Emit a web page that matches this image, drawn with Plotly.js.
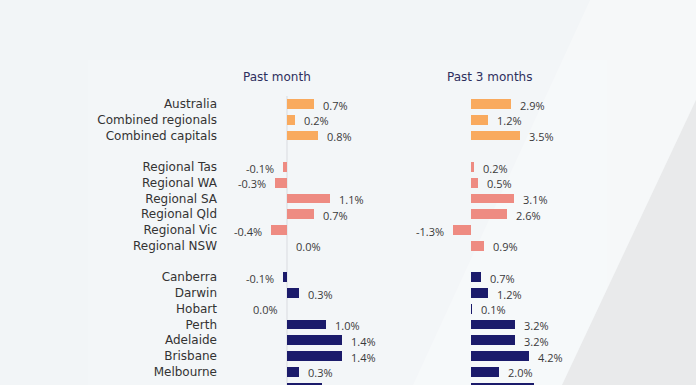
<!DOCTYPE html>
<html>
<head>
<meta charset="utf-8">
<script src="https://cdn.plot.ly/plotly-3.0.1.min.js"></script>
<style>html,body{margin:0;padding:0;background:#f2f5f7;}#chart{width:696px;height:385px;}</style>
</head>
<body>
<div id="chart"></div>
<script>
// ---- data ----
const nationalLabels = ['Australia', 'Combined regionals', 'Combined capitals'];
const nationalMonth = [0.7, 0.2, 0.8];
const national3m = [2.9, 1.2, 3.5];

const regionalLabels = ['Regional Tas', 'Regional WA', 'Regional SA', 'Regional Qld', 'Regional Vic', 'Regional NSW'];
const regionalMonth = [-0.1, -0.3, 1.1, 0.7, -0.4, 0.0];
const regional3m = [0.2, 0.5, 3.1, 2.6, -1.3, 0.9];

const capitalLabels = ['Canberra', 'Darwin', 'Hobart', 'Perth', 'Adelaide', 'Brisbane', 'Melbourne', 'Sydney'];
const capitalMonth = [-0.1, 0.3, -0.0, 1.0, 1.4, 1.4, 0.3, 0.9];
const capital3m = [0.7, 1.2, 0.1, 3.2, 3.2, 4.2, 2.0, 4.5];

const panelTitles = ['Past month', 'Past 3 months'];

// ---- build ----
const W = 696, H = 385;
const FONT = 'DejaVu Sans, sans-serif';
const VFONT = 'Open Sans, sans-serif';
const groups = [
  {labels: nationalLabels, month: nationalMonth, q: national3m, color: '#F9AA5E'},
  {labels: regionalLabels, month: regionalMonth, q: regional3m, color: '#EE8B82'},
  {labels: capitalLabels, month: capitalMonth, q: capital3m, color: '#1B1B6B'}
];
let slot = 0;
const tickvals = [], ticktext = [];
const traces = [];
const annotations = [];
function fmt(v) { return (v < 0 ? '-' : '') + Math.abs(v).toFixed(1) + '%'; }
function isNeg(v) { return v < 0 || Object.is(v, -0); }
groups.forEach(g => {
  const ys = g.labels.map((_, i) => slot + i);
  ys.forEach((y, i) => { tickvals.push(y); ticktext.push(g.labels[i]); });
  [['month', 'x'], ['q', 'x2']].forEach(([key, ax]) => {
    traces.push({
      type: 'bar', orientation: 'h', x: g[key], y: ys, xaxis: ax, yaxis: 'y',
      width: 0.63, marker: {color: g.color, line: {width: 0}}, hoverinfo: 'skip', showlegend: false
    });
    g[key].forEach((v, i) => {
      const neg = isNeg(v);
      annotations.push({
        xref: ax, yref: 'y', x: v, y: ys[i], text: fmt(v), showarrow: false,
        xanchor: neg ? 'right' : 'left', xshift: neg ? -7 : 7, yshift: -1,
        font: {family: VFONT, size: 11, color: '#3a3a3a'}
      });
    });
  });
  slot += g.labels.length + 1;
});

// pixel helpers
const px = p => p / W;
const py = p => 1 - p / H;
const slotPx = 15.75, slot0 = 104;
const yTop = -slot0 / slotPx, yBot = (H - slot0) / slotPx;

// axes: zero of past-month at 287px, 39 px per %; 3 months zero at 471px, 13.9 px per %
const x1L = 222, x1R = 395, z1 = 287, s1 = 39;
const x2L = 440, x2R = 640, z2 = 471, s2 = 13.9;

panelTitles.forEach((t, i) => {
  annotations.push({xref: 'paper', yref: 'paper', x: px(i === 0 ? 277 : 489), y: py(77), text: t, showarrow: false,
    xanchor: 'center', yanchor: 'middle', font: {family: FONT, size: 12, color: '#2E2F5E'}});
});

function pathP(pts) { return 'M' + pts.map(p => px(p[0]) + ',' + py(p[1])).join(' L') + ' Z'; }

const layout = {
  width: W, height: H,
  margin: {l: 0, r: 0, t: 0, b: 0, pad: 0},
  paper_bgcolor: '#f2f5f7', plot_bgcolor: 'rgba(0,0,0,0)',
  showlegend: false, bargap: 0,
  font: {family: FONT, size: 12, color: '#333'},
  xaxis: {domain: [px(x1L), px(x1R)], range: [-(z1 - x1L) / s1, (x1R - z1) / s1], showgrid: false,
    zeroline: false, showticklabels: false, ticks: '', anchor: 'y', fixedrange: true},
  xaxis2: {domain: [px(x2L), px(x2R)], range: [-(z2 - x2L) / s2, (x2R - z2) / s2], showgrid: false,
    zeroline: false, showticklabels: false, ticks: '', anchor: 'y', fixedrange: true},
  yaxis: {domain: [0, 1], range: [yBot, yTop], tickmode: 'array', tickvals: tickvals, ticktext: ticktext,
    showgrid: false, zeroline: false, ticks: '', ticklabelstandoff: 4, anchor: 'x',
    tickfont: {family: FONT, size: 12, color: '#333'}, fixedrange: true},
  annotations: annotations,
  shapes: [
    {type: 'rect', xref: 'paper', yref: 'paper', x0: px(88), x1: px(607), y0: 0, y1: py(60),
      fillcolor: 'rgba(255,255,255,0.12)', line: {width: 0}, layer: 'below'},
    {type: 'path', xref: 'paper', yref: 'paper', path: pathP([[590, 0], [696, 0], [696, 100], [575, 385], [413, 385]]),
      fillcolor: 'rgba(255,255,255,0.3)', line: {width: 0}, layer: 'below'},
    {type: 'path', xref: 'paper', yref: 'paper', path: pathP([[696, 100], [696, 385], [562, 385]]),
      fillcolor: '#e9eaeb', line: {width: 0}, layer: 'below'},
    {type: 'line', xref: 'x', yref: 'paper', x0: 0, x1: 0, y0: py(96), y1: 0,
      line: {color: '#d9dbe0', width: 1}, layer: 'below'}
  ]
};

Plotly.newPlot('chart', traces, layout, {displayModeBar: false, staticPlot: true});
</script>
</body>
</html>
